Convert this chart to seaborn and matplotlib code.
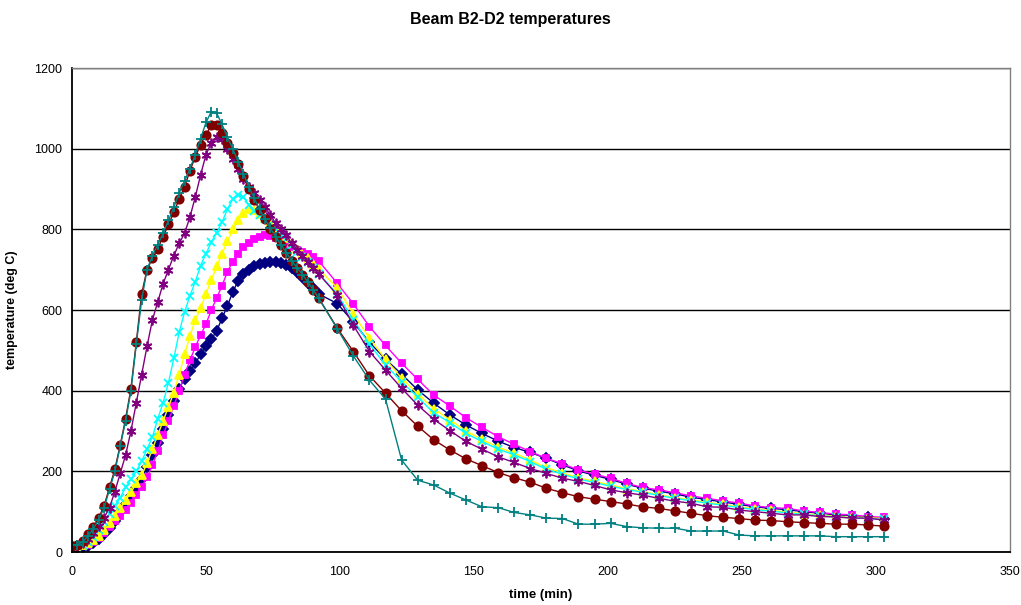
# Beam B2-D2 temperatures - Excel style line chart
import numpy as np
import pandas as pd
import matplotlib
matplotlib.use("Agg")
import matplotlib.pyplot as plt
import seaborn as sns

# time axis (min): dense logging first, then every 6 min
time_dense = [0, 2, 4, 6, 8, 10, 12, 14, 16, 18,
              20, 22, 24, 26, 28, 30, 32, 34, 36, 38,
              40, 42, 44, 46, 48, 50, 52, 54, 56, 58,
              60, 62, 64, 66, 68, 70, 72, 74, 76, 78,
              80, 82, 84, 86, 88, 90, 92]
time_sparse = [99, 105, 111, 117, 123, 129, 135, 141, 147, 153,
               159, 165, 171, 177, 183, 189, 195, 201, 207, 213,
               219, 225, 231, 237, 243, 249, 255, 261, 267, 273,
               279, 285, 291, 297, 303]

# temperatures (deg C)
navy = [10, 10, 12, 16, 22, 32, 45, 60, 78, 98,
        118, 138, 158, 180, 210, 240, 270, 305, 340, 375,
        405, 430, 448, 468, 490, 510, 528, 548, 580, 610,
        645, 672, 690, 700, 708, 713, 717, 719, 719, 716,
        711, 703, 694, 682, 668, 655, 640,
        616, 570, 520, 478, 441, 402, 369, 340, 315, 294,
        275, 259, 247, 232, 216, 201, 190, 180, 168, 158,
        151, 144, 136, 130, 124, 118, 112, 108, 105, 100,
        96, 92, 89, 86, 83]
magenta = [12, 12, 14, 18, 25, 35, 48, 62, 76, 90,
           105, 122, 142, 162, 185, 215, 250, 290, 325, 362,
           400, 440, 475, 508, 538, 565, 600, 630, 660, 695,
           720, 740, 755, 766, 775, 782, 785, 783, 778, 770,
           763, 756, 750, 745, 740, 732, 722,
           666, 615, 559, 512, 468, 428, 389, 362, 333, 309,
           286, 267, 249, 232, 219, 203, 193, 183, 170, 160,
           154, 147, 139, 133, 127, 121, 114, 110, 108, 102,
           98, 94, 92, 88, 86]
yellow = [15, 15, 17, 22, 30, 40, 55, 72, 90, 108,
          128, 148, 170, 190, 220, 255, 290, 325, 360, 395,
          440, 490, 535, 575, 605, 640, 675, 708, 740, 770,
          800, 822, 840, 850, 848, 838, 828, 815, 802, 790,
          778, 765, 752, 740, 728, 715, 702,
          655, 590, 530, 478, 431, 392, 355, 328, 300, 279,
          260, 245, 228, 209, 196, 184, 175, 166, 157, 150,
          142, 135, 129, 123, 118, 112, 107, 103, 99, 95,
          92, 89, 87, 85, 83]
cyan = [15, 15, 18, 25, 38, 55, 75, 95, 115, 135,
        160, 180, 200, 225, 255, 285, 330, 370, 420, 480,
        545, 595, 635, 670, 710, 740, 768, 792, 818, 850,
        875, 885, 880, 860, 845, 835, 825, 812, 800, 788,
        775, 760, 745, 732, 718, 705, 690,
        640, 575, 515, 464, 422, 384, 345, 321, 294, 274,
        255, 241, 224, 205, 193, 181, 172, 163, 155, 148,
        140, 133, 127, 121, 116, 110, 105, 101, 97, 93,
        90, 87, 85, 83, 81]
purple = [15, 16, 22, 32, 48, 65, 85, 110, 150, 195,
          240, 300, 370, 440, 510, 575, 620, 665, 700, 735,
          765, 790, 830, 880, 935, 985, 1015, 1030, 1025, 1000,
          975, 950, 925, 905, 890, 872, 855, 835, 815, 800,
          785, 765, 750, 735, 720, 705, 690,
          637, 562, 497, 451, 406, 364, 329, 301, 274, 255,
          236, 222, 207, 195, 183, 175, 165, 154, 147, 141,
          133, 126, 121, 112, 111, 104, 100, 96, 92, 92,
          88, 87, 84, 84, 79]
maroon = [15, 18, 28, 45, 62, 85, 115, 160, 205, 265,
          330, 405, 520, 640, 700, 728, 752, 782, 812, 842,
          875, 905, 945, 980, 1010, 1035, 1058, 1058, 1040, 1015,
          990, 962, 932, 900, 872, 848, 825, 802, 782, 762,
          742, 722, 705, 688, 670, 650, 630,
          555, 497, 437, 394, 350, 312, 278, 253, 231, 214,
          197, 184, 173, 158, 147, 137, 131, 125, 119, 112,
          108, 102, 96, 90, 86, 83, 79, 78, 75, 73,
          71, 69, 69, 67, 64]
teal = [18, 18, 25, 40, 58, 80, 110, 155, 200, 262,
        325, 400, 515, 625, 700, 735, 762, 790, 822, 855,
        890, 920, 950, 985, 1025, 1065, 1092, 1088, 1060, 1028,
        1000, 968, 938, 905, 877, 850, 826, 803, 782, 762,
        742, 722, 705, 688, 670, 650, 630,
        553, 486, 426, 379, 228, 178, 166, 146, 129, 112,
        110, 98, 92, 84, 83, 69, 69, 71, 63, 60,
        59, 59, 52, 52, 52, 42, 40, 40, 40, 40,
        40, 38, 38, 38, 38]

time = time_dense + time_sparse

# Excel default series styling: values, colour, marker, marker size
series = [
    (navy, "#000080", "D", 5.0),
    (magenta, "#FF00FF", "s", 5.0),
    (yellow, "#FFFF00", "^", 5.5),
    (cyan, "#00FFFF", "x", 6.0),
    (purple, "#800080", (6, 2, 0), 7.0),
    (maroon, "#800000", "o", 6.0),
    (teal, "#008080", "+", 7.0),
]

sns.set_style("white")
plt.rcParams["font.family"] = ["Liberation Sans", "DejaVu Sans"]
plt.rcParams["text.color"] = "black"
plt.rcParams["axes.labelcolor"] = "black"
plt.rcParams["xtick.color"] = "black"
plt.rcParams["ytick.color"] = "black"

fig = plt.figure(figsize=(10.21, 6.05), dpi=100)
ax = fig.add_axes([0.0705, 0.0876, 0.9187, 0.8])

for vals, col, mk, ms in series:
    sns.lineplot(x=time, y=vals, ax=ax, color=col, linewidth=1.0,
                 marker=mk, markersize=ms, markeredgecolor=col,
                 markeredgewidth=1.3, sort=False, errorbar=None)

ax.set_xlim(0, 350)
ax.set_ylim(0, 1200)
ax.set_xticks(range(0, 351, 50))
ax.set_yticks(range(0, 1201, 200))
ax.yaxis.grid(True, color="black", linewidth=1.0)
ax.set_axisbelow(True)
ax.tick_params(axis="both", direction="out", length=4, width=1.0,
               labelsize=9, color="black", labelcolor="black", pad=3)
ax.tick_params(axis="x", pad=6)

for side in ["left", "bottom"]:
    ax.spines[side].set_color("black")
    ax.spines[side].set_linewidth(1.3)
for side in ["top", "right"]:
    ax.spines[side].set_color("#808080")
    ax.spines[side].set_linewidth(1.0)

ax.set_xlabel("time (min)", fontsize=9.5, fontweight="bold", labelpad=8, color="black")
ax.set_ylabel("temperature (deg C)", fontsize=9, fontweight="bold", labelpad=12, color="black")
fig.text(0.5, 0.967, "Beam B2-D2 temperatures", ha="center", va="center",
         fontsize=11.5, fontweight="bold", color="black")

plt.savefig("out.png", dpi=100)
